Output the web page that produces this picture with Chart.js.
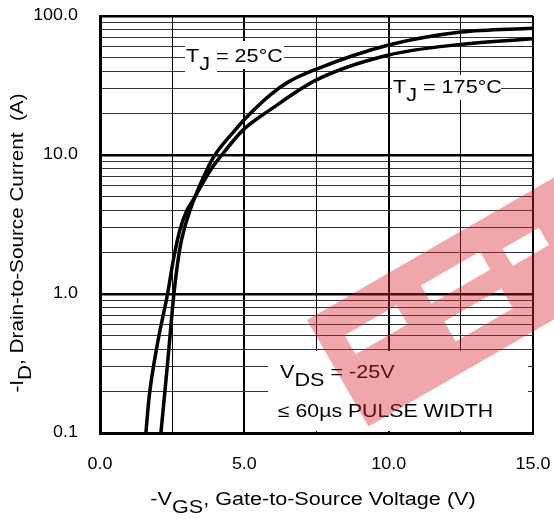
<!DOCTYPE html>
<html>
<head>
<meta charset="utf-8">
<script src="https://cdn.jsdelivr.net/npm/chart.js@4.4.1/dist/chart.umd.min.js"></script>
<style>
  html, body { margin: 0; padding: 0; background: #fff; }
  #graf { display: block; }
</style>
</head>
<body>
<canvas id="graf" width="554" height="519"></canvas>
<script>
// curva Tj = 25°C
const vgs25 = [2.11, 2.33, 2.56, 2.66, 2.78, 2.93, 3.12, 3.29, 3.70, 3.98, 4.68, 5.0, 5.89, 6.5, 7.5, 10.0, 12.5, 15.0]
const id25 = [0.1, 0.3, 1.0, 1.5, 2.2, 3.0, 4.0, 5.0, 7.8, 10, 15.1, 18.0, 27.0, 33.3, 41.5, 61.8, 76.7, 81.7]
// curva Tj = 175°C
const vgs175 = [1.59, 1.70, 2.00, 2.34, 2.55, 2.77, 3.00, 3.29, 3.83, 4.22, 4.95, 5.89, 7.5, 10.0, 12.5, 15.0]
const id175 = [0.1, 0.18, 0.45, 1.0, 1.8, 2.9, 3.95, 5.0, 7.8, 10, 15.1, 21.1, 34.7, 52.4, 62.5, 68.7]

// lineas de la grilla y etiquetas
const xTicks = [0, 2.5, 5, 7.5, 10, 12.5, 15]
const xLabels = [0, 5, 10, 15]
const yTicks = [0.1, 0.2, 0.3, 0.4, 0.5, 0.6, 0.7, 0.8, 0.9,
  1, 2, 3, 4, 5, 6, 7, 8, 9,
  10, 20, 30, 40, 50, 60, 70, 80, 90, 100]
const yLabels = [0.1, 1, 10, 100]

const fuente = "'Liberation Sans', Arial, sans-serif"

const toPoints = (xs, ys) => xs.map((x, i) => ({ x: x, y: ys[i] }))

// texto con subindices: partes = [[texto, esSub], ...]
const textoSub = (ctx, partes, x, y, size) => {
  let pos = x
  partes.forEach(p => {
    ctx.font = size + "px " + fuente
    ctx.fillText(p[0], pos, p[1] ? y + size * 0.42 : y)
    pos += ctx.measureText(p[0]).width
  })
  return pos - x
}
const anchoSub = (ctx, partes, size) => {
  ctx.font = size + "px " + fuente
  let w = 0
  partes.forEach(p => { w += ctx.measureText(p[0]).width })
  return w
}
// el texto del original es mas ancho, se estira en x
const texto = (ctx, partes, x, y, size, sx, align) => {
  ctx.save()
  ctx.translate(x, y)
  ctx.scale(sx, 1)
  const w = anchoSub(ctx, partes, size)
  let ini = 0
  if (align === 'center') ini = -w / 2
  if (align === 'right') ini = -w
  textoSub(ctx, partes, ini, 0, size)
  ctx.restore()
}

const notas = {
  id: 'notas',
  afterDatasetsDraw(chart) {
    const ctx = chart.ctx
    ctx.save()
    ctx.fillStyle = '#fff'
    ctx.fillRect(185, 41, 99, 28)
    ctx.fillRect(185, 41, 32, 33)
    ctx.fillRect(392, 75, 109, 25)
    ctx.fillRect(268, 351, 260, 80)
    ctx.fillStyle = '#000'
    ctx.textBaseline = 'alphabetic'
    texto(ctx, [['T', false], ['J', true], [' = 25°C', false]], 186, 62, 18, 1.2)
    texto(ctx, [['T', false], ['J', true], [' = 175°C', false]], 393, 93, 18, 1.2)
    texto(ctx, [['V', false], ['DS', true], [' = -25V', false]], 280, 378, 18, 1.2)
    texto(ctx, [['≤ 60µs PULSE WIDTH', false]], 278, 417, 18, 1.18)

    // etiquetas de los ejes
    const sx = chart.scales.x
    const sy = chart.scales.y
    ctx.textBaseline = 'middle'
    xLabels.forEach(v => {
      texto(ctx, [[v.toFixed(1), false]], sx.getPixelForValue(v), 465, 16, 1.12, 'center')
    })
    yLabels.forEach(v => {
      texto(ctx, [[v.toFixed(1), false]], 78, sy.getPixelForValue(v), 16, 1.12, 'right')
    })
    ctx.restore()
  },
  afterDraw(chart) {
    const ctx = chart.ctx
    ctx.save()
    ctx.fillStyle = '#000'
    ctx.textBaseline = 'alphabetic'
    // titulo eje x
    texto(ctx, [['-V', false], ['GS', true], [', Gate-to-Source Voltage (V)', false]], 313, 505, 18, 1.2, 'center')
    // titulo eje y
    ctx.translate(23, 243)
    ctx.rotate(-Math.PI / 2)
    texto(ctx, [['-I', false], ['D', true], [', Drain-to-Source Current  (A)', false]], 0, 0, 18, 1.15, 'center')
    ctx.restore()

    // marca de agua
    ctx.save()
    ctx.translate(307, 320)
    ctx.rotate(-Math.PI / 6)
    ctx.beginPath()
    ctx.rect(0, 0, 420, 123)
    ctx.rect(25, 32, 60, 22)
    ctx.rect(116, 27, 68, 21)
    ctx.rect(118, 70, 66, 23)
    ctx.rect(205, 36, 42, 20)
    ctx.fillStyle = 'rgba(215, 35, 45, 0.4)'
    ctx.fill('evenodd')
    ctx.restore()
  }
}

const ctx = document.getElementById('graf')

let grafico = new Chart(ctx, {
  type: 'scatter',
  data: {
    datasets: [
      {
        label: 'TJ = 25°C',
        data: toPoints(vgs25, id25),
        showLine: true,
        borderColor: '#000',
        borderWidth: 3.5,
        pointRadius: 0,
        cubicInterpolationMode: 'monotone'
      },
      {
        label: 'TJ = 175°C',
        data: toPoints(vgs175, id175),
        showLine: true,
        borderColor: '#000',
        borderWidth: 3.5,
        pointRadius: 0,
        cubicInterpolationMode: 'monotone'
      }
    ]
  },
  options: {
    responsive: false,
    animation: false,
    devicePixelRatio: 1,
    layout: { padding: { top: 16, right: 21, left: 0, bottom: 0 } },
    plugins: {
      legend: { display: false },
      tooltip: { enabled: false }
    },
    scales: {
      x: {
        type: 'linear',
        min: 0,
        max: 15,
        afterBuildTicks: (scale) => { scale.ticks = xTicks.map(v => ({ value: v })) },
        afterFit: (scale) => {
          scale.height = 86
          scale.paddingLeft = 0
          scale.paddingRight = 0
        },
        grid: {
          color: '#000',
          lineWidth: (c) => (c.tick && c.tick.value % 5 === 0) ? 2 : 1,
          drawTicks: false
        },
        border: { color: '#000', width: 3 },
        ticks: { display: false }
      },
      y: {
        type: 'logarithmic',
        min: 0.1,
        max: 100,
        afterBuildTicks: (scale) => { scale.ticks = yTicks.map(v => ({ value: v })) },
        afterFit: (scale) => {
          scale.width = 100
          scale.paddingTop = 0
          scale.paddingBottom = 0
        },
        grid: {
          color: (c) => (c.tick && yLabels.includes(c.tick.value)) ? '#000' : '#333',
          lineWidth: (c) => (c.tick && yLabels.includes(c.tick.value)) ? 2.5 : 1,
          drawTicks: false
        },
        border: { color: '#000', width: 3 },
        ticks: { display: false }
      }
    }
  },
  plugins: [notas]
})
</script>
</body>
</html>
